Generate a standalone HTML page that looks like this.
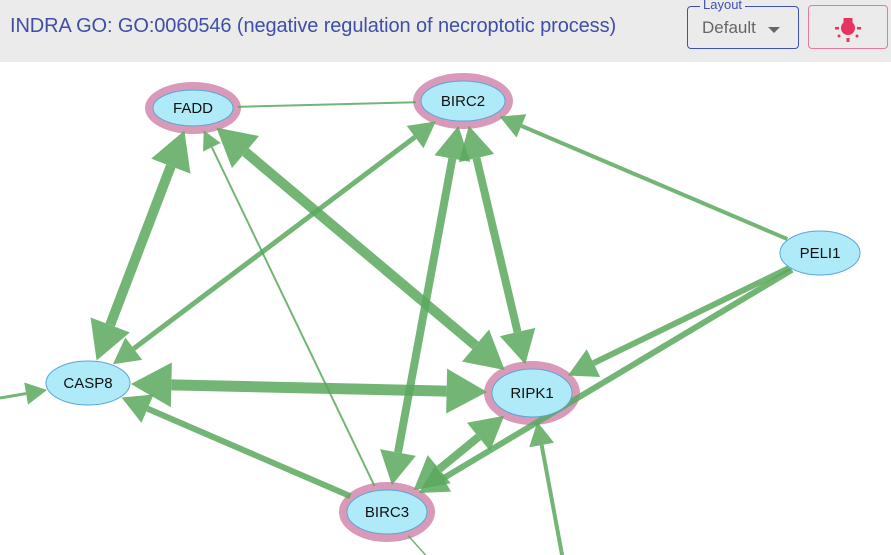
<!DOCTYPE html>
<html><head><meta charset="utf-8"><style>
body{margin:0;width:891px;height:555px;overflow:hidden;background:#fff;font-family:"Liberation Sans",sans-serif}
#hdr{position:absolute;left:0;top:0;width:891px;height:62px;background:#ebebeb}
#title{position:absolute;left:10px;top:15px;font-size:20px;color:#3f4ea8;letter-spacing:-0.1px}
#layout{position:absolute;left:687px;top:6px;width:110px;height:41px;border:1.5px solid #3f51b5;border-radius:4px}
#layout .lbl{position:absolute;left:12px;top:-9px;background:#ebebeb;padding:0 3px;font-size:13px;color:#3f51b5;line-height:14px}
#layout .val{position:absolute;left:14px;top:11px;font-size:17px;color:#666}
#layout .car{position:absolute;left:80px;top:20px;border-left:6px solid transparent;border-right:6px solid transparent;border-top:6px solid #666}
#btn{position:absolute;left:808px;top:5px;width:78px;height:42px;border:1.5px solid #e57a9a;border-radius:4px}
svg{position:absolute;left:0;top:0}
</style></head><body>
<svg id="g" width="891" height="555"></svg>
<div id="hdr">
<div id="title">INDRA GO: GO:0060546 (negative regulation of necroptotic process)</div>
<div id="layout"><span class="lbl">Layout</span><span class="val">Default</span><span class="car"></span></div>
<div id="btn">
<svg width="78" height="42" style="position:absolute;left:0;top:0"><g fill="#e8325f"><circle cx="39" cy="22" r="7"/><rect x="34.5" y="12" width="9" height="8"/><rect x="37.5" y="32" width="3" height="4"/><rect x="26" y="21" width="4" height="2.5"/><rect x="48" y="21" width="4" height="2.5"/><circle cx="30" cy="30" r="1.5"/><circle cx="48" cy="30" r="1.5"/></g></svg>
</div>
</div>
<script>
const nodeNames=["FADD","BIRC2","PELI1","CASP8","RIPK1","BIRC3"];
const nodeX=[193,463,820,88,532,387];
const nodeY=[108,101,253,383,393,512];
const nodeRx=[40,42,40,42,40,40];
const nodeRy=[18,20,22,22,24,22];
const nodeHalo=[1,1,0,0,1,1];
const edgeSrc=["FADD","CASP8","FADD","BIRC3","CASP8","BIRC2","BIRC2","PELI1","PELI1","PELI1","CASP8","BIRC3","RIPK1","EXT_W","EXT_S","BIRC3"];
const edgeTgt=["BIRC2","FADD","RIPK1","FADD","BIRC2","BIRC3","RIPK1","BIRC2","RIPK1","BIRC3","RIPK1","CASP8","BIRC3","CASP8","RIPK1","EXT_S2"];
const edgeW=[2,10,10,2,5,8,8,4,6,6,11,6,8,3,4,1.5];
const arrowSrc=[0,1,1,0,1,1,1,0,0,0,1,0,1,0,0,0];
const arrowTgt=[0,1,1,1,1,1,1,1,1,1,1,1,1,1,1,0];
const ext={EXT_W:[0,398],EXT_S:[563,560],EXT_S2:[430,560]};
const NS="http://www.w3.org/2000/svg",svg=document.getElementById('g');
function el(t,a){const e=document.createElementNS(NS,t);for(const k in a)e.setAttribute(k,a[k]);return e;}
function pos(n){const i=nodeNames.indexOf(n);return i<0?{x:ext[n][0],y:ext[n][1],rx:0,ry:0}:{x:nodeX[i],y:nodeY[i],rx:nodeRx[i]+(nodeHalo[i]?5:1),ry:nodeRy[i]+(nodeHalo[i]?5:1)};}
function trim(a,b){const dx=b.x-a.x,dy=b.y-a.y;if(!b.rx)return{x:b.x,y:b.y};const t=1/Math.sqrt((dx*dx)/(b.rx*b.rx)+(dy*dy)/(b.ry*b.ry));return{x:b.x-dx*t,y:b.y-dy*t};}
const haloG=el('g',{}),edgeG=el('g',{}),nodeG=el('g',{});
svg.appendChild(haloG);svg.appendChild(edgeG);svg.appendChild(nodeG);
nodeNames.forEach((n,i)=>{
 if(nodeHalo[i]){const h=el('ellipse',{cx:nodeX[i],cy:nodeY[i],rx:nodeRx[i]+8,ry:nodeRy[i]+8,fill:'#d89ab8'});
 
 haloG.appendChild(h);}
 const e=el('ellipse',{cx:nodeX[i],cy:nodeY[i],rx:nodeRx[i],ry:nodeRy[i],fill:'#aeeaf8',stroke:'#5aa6d8','stroke-width':1});
 
 nodeG.appendChild(e);
 const t=el('text',{x:nodeX[i],y:nodeY[i]+5,'text-anchor':'middle','font-size':15,'font-family':'Liberation Sans, sans-serif',fill:'#111'});
 t.textContent=n;
 
 nodeG.appendChild(t);
});
function arrow(tip,from,w){const dx=tip.x-from.x,dy=tip.y-from.y,L=Math.hypot(dx,dy),ux=dx/L,uy=dy/L;const len=2.4*w+14,hw=1.4*w+7;
 const bx=tip.x-ux*len,by=tip.y-uy*len;return{pts:`${tip.x},${tip.y} ${bx-uy*hw},${by+ux*hw} ${bx+uy*hw},${by-ux*hw}`,bx,by};}
edgeSrc.forEach((s,i)=>{
 const A=pos(s),B=pos(edgeTgt[i]);let p1=trim(B,A),p2=trim(A,B);
 const g=el('g',{opacity:0.85});
 
 
 let a1=p1,a2=p2;
 if(arrowTgt[i]){const r=arrow(p2,p1,edgeW[i]);g.appendChild(el('polygon',{points:r.pts,fill:'#5aa95e'}));a2={x:r.bx,y:r.by};}
 if(arrowSrc[i]){const r=arrow(p1,p2,edgeW[i]);g.appendChild(el('polygon',{points:r.pts,fill:'#5aa95e'}));a1={x:r.bx,y:r.by};}
 g.insertBefore(el('line',{x1:a1.x,y1:a1.y,x2:a2.x,y2:a2.y,stroke:'#5aa95e','stroke-width':edgeW[i]}),g.firstChild);
 edgeG.appendChild(g);
});
</script>
</body></html>
